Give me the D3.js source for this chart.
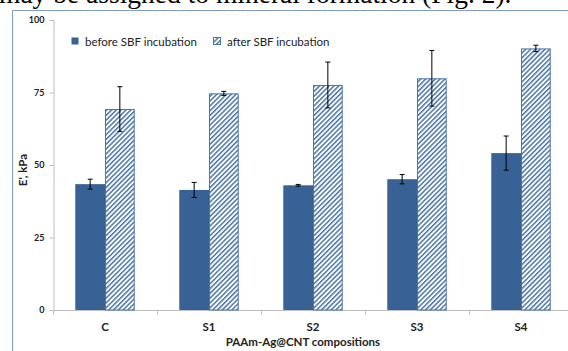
<!DOCTYPE html>
<html>
<head>
<meta charset="utf-8">
<script src="https://cdn.jsdelivr.net/npm/d3@7"></script>
<style>
  html, body { margin: 0; padding: 0; background: #fff; }
  svg { display: block; }
</style>
</head>
<body>
<svg id="chart" width="568" height="351"></svg>
<script>
// Storage modulus before/after SBF incubation
const categories = ["C", "S1", "S2", "S3", "S4"];
const beforeValues = [43.4, 41.4, 43.0, 45.1, 54.1];
const beforeErrors = [1.7, 2.6, 0.3, 1.6, 5.9];
const afterValues = [69.3, 74.7, 77.6, 79.9, 90.2];
const afterErrors = [7.7, 0.7, 7.9, 9.6, 1.1];
const seriesNames = ["before SBF incubation", "after SBF incubation"];
const yTicks = [0, 25, 50, 75, 100];

const svg = d3.select("#chart");
const font = "Lato, 'Open Sans', sans-serif";
const darkBlue = "#386196";
const hatchBlue = "#4a74a8";

// hatch pattern for the second series
const defs = svg.append("defs");
const pat = defs.append("pattern")
  .attr("id", "hatch")
  .attr("patternUnits", "userSpaceOnUse")
  .attr("width", 3.4).attr("height", 4)
  .attr("patternTransform", "rotate(45)");
pat.append("rect").attr("width", 3.4).attr("height", 4).attr("fill", "#fff");
pat.append("rect").attr("x", 0).attr("width", 1.5).attr("height", 4).attr("fill", hatchBlue);

// running text above the figure
svg.append("text")
  .attr("x", -1).attr("y", 3)
  .attr("font-family", "'Liberation Serif', 'Times New Roman', serif")
  .attr("font-size", 27.5)
  .attr("fill", "#000")
  .text("may be assigned to mineral formation (Fig. 2).");

// figure frame
svg.append("line").attr("x1", 12.5).attr("x2", 568).attr("y1", 10.5).attr("y2", 10.5)
  .attr("stroke", "#7f9ec6").attr("stroke-width", 1);
svg.append("line").attr("x1", 12.5).attr("x2", 12.5).attr("y1", 10.5).attr("y2", 351)
  .attr("stroke", "#7f9ec6").attr("stroke-width", 1);

const x0 = d3.scaleBand().domain(categories).range([53, 573]).paddingInner(0).paddingOuter(0);
const y = d3.scaleLinear().domain([0, 100]).range([310, 20]);
const barW = x0.bandwidth() / 3.5;

// axes
const yAxis = svg.append("g").attr("transform", "translate(53.5,0)")
  .call(d3.axisLeft(y).tickValues(yTicks).tickSize(4).tickPadding(5));
yAxis.select(".domain").attr("stroke", "#bfbfbf");
yAxis.selectAll(".tick line").attr("stroke", "#bfbfbf");
yAxis.selectAll(".tick text").attr("font-family", font).attr("font-size", 9)
  .attr("font-weight", "bold").attr("fill", "#222");

const xAxisG = svg.append("g").attr("transform", "translate(0,310.5)");
xAxisG.append("line").attr("x1", 53).attr("x2", 573).attr("stroke", "#bfbfbf");
xAxisG.selectAll("line.tk").data(categories.concat(["end"])).join("line")
  .attr("class", "tk")
  .attr("x1", (d, i) => 53.5 + i * x0.bandwidth())
  .attr("x2", (d, i) => 53.5 + i * x0.bandwidth())
  .attr("y1", 0).attr("y2", 4).attr("stroke", "#bfbfbf");
xAxisG.selectAll("text").data(categories).join("text")
  .attr("x", d => x0(d) + x0.bandwidth() / 2)
  .attr("y", 20)
  .attr("text-anchor", "middle")
  .attr("font-family", font).attr("font-size", 11.5).attr("font-weight", "bold")
  .attr("fill", "#222")
  .text(d => d);

// bars
const groups = svg.append("g").selectAll("g").data(categories).join("g")
  .attr("transform", d => `translate(${x0(d) + x0.bandwidth() / 2},0)`);

groups.append("rect")
  .attr("x", -barW).attr("width", barW)
  .attr("y", (d, i) => y(beforeValues[i]))
  .attr("height", (d, i) => y(0) - y(beforeValues[i]))
  .attr("fill", darkBlue);

groups.append("rect")
  .attr("x", 0.5).attr("width", barW - 1)
  .attr("y", (d, i) => y(afterValues[i]) + 0.5)
  .attr("height", (d, i) => y(0) - y(afterValues[i]) - 0.5)
  .attr("fill", "url(#hatch)")
  .attr("stroke", hatchBlue).attr("stroke-width", 1);

// error bars
function errorBar(sel, cx, vals, errs) {
  sel.append("line")
    .attr("x1", cx).attr("x2", cx)
    .attr("y1", (d, i) => y(vals[i] + errs[i]))
    .attr("y2", (d, i) => y(vals[i] - errs[i]))
    .attr("stroke", "#000").attr("stroke-width", 1);
  [1, -1].forEach(s => {
    sel.append("line")
      .attr("x1", cx - 2.5).attr("x2", cx + 2.5)
      .attr("y1", (d, i) => y(vals[i] + s * errs[i]))
      .attr("y2", (d, i) => y(vals[i] + s * errs[i]))
      .attr("stroke", "#000").attr("stroke-width", 1);
  });
}
errorBar(groups, -barW / 2, beforeValues, beforeErrors);
errorBar(groups, barW / 2, afterValues, afterErrors);

// legend
const legend = svg.append("g").attr("font-family", font).attr("font-size", 11.5).attr("fill", "#222");
const legendX = [71, 213];
seriesNames.forEach((name, i) => {
  const g = legend.append("g").attr("transform", `translate(${legendX[i]},37)`);
  g.append("rect").attr("x", 0.5).attr("y", 0.5).attr("width", 7).attr("height", 7)
    .attr("fill", i === 0 ? darkBlue : "url(#hatch)")
    .attr("stroke", i === 0 ? "none" : hatchBlue);
  g.append("text").attr("x", 14).attr("y", 8.5).text(name);
});

// axis titles
svg.append("text")
  .attr("transform", "translate(27,170) rotate(-90)")
  .attr("text-anchor", "middle")
  .attr("font-family", font).attr("font-size", 11.5).attr("font-weight", "bold")
  .attr("fill", "#222")
  .text("E', kPa");

svg.append("text")
  .attr("x", 303).attr("y", 346)
  .attr("text-anchor", "middle")
  .attr("font-family", font).attr("font-size", 11.5).attr("font-weight", "bold")
  .attr("fill", "#222")
  .text("PAAm-Ag@CNT  compositions");
</script>
</body>
</html>
